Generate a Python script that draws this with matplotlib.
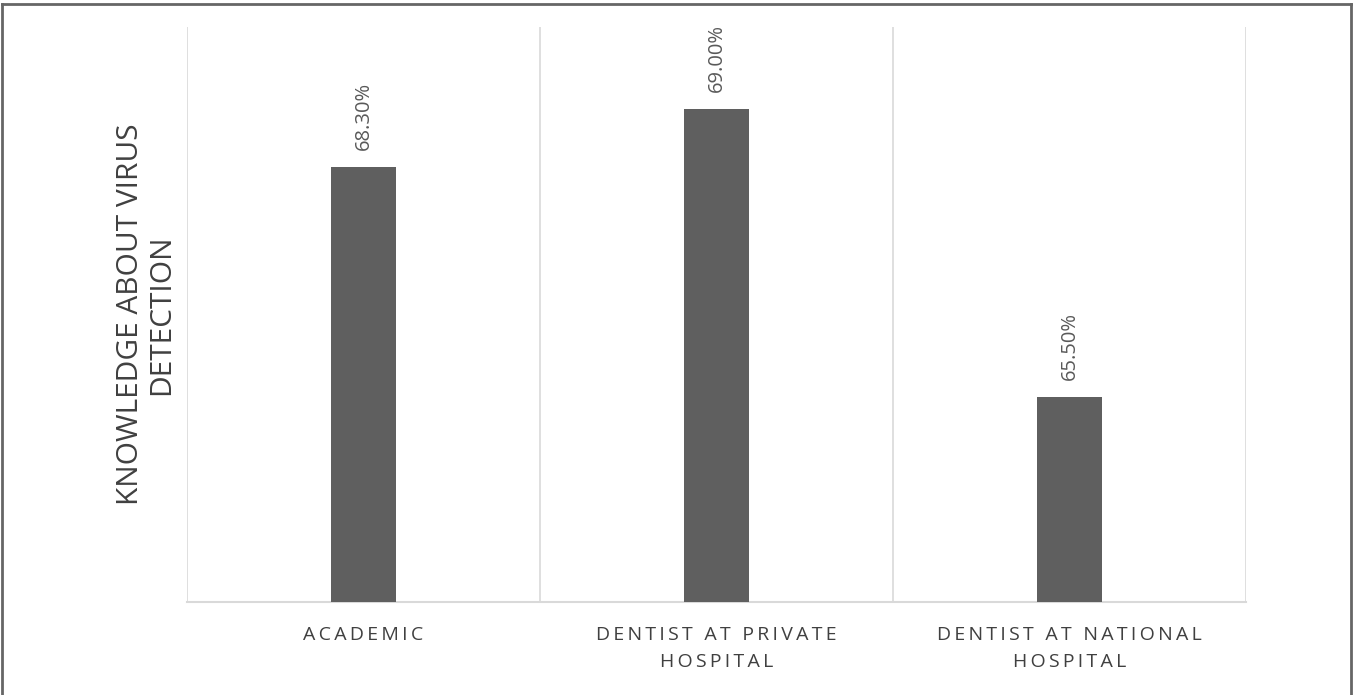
import numpy as np
import matplotlib.pyplot as plt
from matplotlib.lines import Line2D

# datos
categorias = ["ACADEMIC", "DENTIST AT PRIVATE\nHOSPITAL", "DENTIST AT NATIONAL\nHOSPITAL"]
valores = [68.3, 69.0, 65.5]
etiquetas = ["68.30%", "69.00%", "65.50%"]
eje_y = "KNOWLEDGE ABOUT VIRUS\nDETECTION"


def espaciar(texto, sep="\u2009"):
    # simula el espaciado entre letras de Excel
    return "\n".join(sep.join(linea) for linea in texto.split("\n"))


plt.rcParams["font.family"] = ["Open Sans", "DejaVu Sans"]

fig = plt.figure(figsize=(13.57, 6.95), dpi=100)
ax = fig.add_axes([187 / 1357, 93 / 695, 1059 / 1357, 575 / 695])

x = np.arange(len(valores))
bars = ax.bar(x, valores, width=0.184, color="#5f5f5f", zorder=3)
ax.set_ylim(63, 70)
ax.set_xlim(-0.5, len(valores) - 0.5)

for b, txt in zip(bars, etiquetas):
    ax.annotate(txt, (b.get_x() + b.get_width() / 2, b.get_height()),
                xytext=(0, 12), textcoords="offset points", rotation=90,
                ha="center", va="bottom", fontsize=14.5, color="#595959")

ax.set_xticks(x)
ax.set_xticklabels([espaciar(c) for c in categorias], fontsize=14,
                   color="#404040", linespacing=1.7)
ax.set_xticks(np.arange(-0.5, len(valores)), minor=True)
ax.tick_params(axis="x", which="both", length=0, pad=17)
ax.set_yticks([])
ax.grid(which="minor", axis="x", color="#d9d9d9", linewidth=1.2, zorder=0)

for s in ["top", "left", "right"]:
    ax.spines[s].set_visible(False)
ax.spines["bottom"].set_color("#d9d9d9")
ax.spines["bottom"].set_linewidth(1.5)

ax.set_ylabel(eje_y, fontsize=21.5, color="#404040", labelpad=8, linespacing=1.1)

# marco de la figura (sin borde inferior)
W, H = 1357, 695
for xs, ys in [([2 / W, 2 / W], [0, 1 - 4 / H]),
               ([2 / W, 1351 / W], [1 - 4 / H, 1 - 4 / H]),
               ([1351 / W, 1351 / W], [0, 1 - 4 / H])]:
    fig.add_artist(Line2D(xs, ys, color="#666666", linewidth=2, transform=fig.transFigure))

fig.savefig("out.png", dpi=100)
